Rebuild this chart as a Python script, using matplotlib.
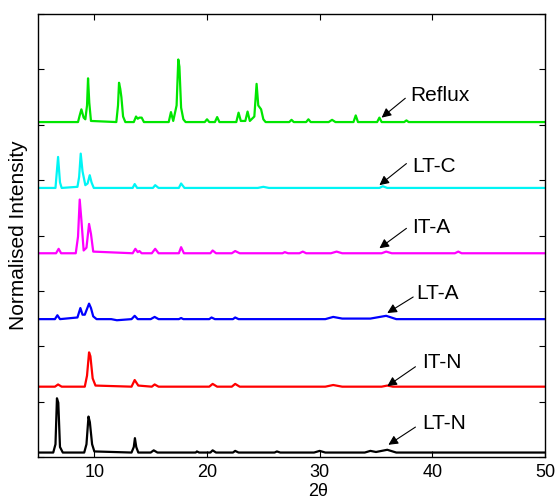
import matplotlib
matplotlib.use("Agg")
import matplotlib.pyplot as plt

plt.rcParams['font.family'] = ['Liberation Sans', 'DejaVu Sans']

# Sample names (bottom to top)
labels = ["LT-N", "IT-N", "LT-A", "IT-A", "LT-C", "Reflux"]
colors = ["#000000", "#ff0000", "#0000ff", "#ff00ff", "#00f5f5", "#00e600"]
offsets = [0.08, 1.27, 2.49, 3.68, 4.86, 6.05]

# Traced pattern points (2theta, normalised intensity above own baseline)
ltn_x = [5, 6.35, 6.55, 6.68, 6.8, 6.95, 7.2, 9.1, 9.3, 9.48, 9.6, 9.8, 10.0, 13.3, 13.5, 13.6,
         13.72, 13.9, 15.0, 15.27, 15.6, 19.0, 19.1, 19.3, 20.3, 20.5, 20.8, 22.3, 22.5, 22.8,
         26.0, 26.2, 26.5, 29.5, 30.0, 30.5, 34.0, 34.5, 35.0, 36.0, 36.8, 50]
ltn_y = [0, 0, 0.15, 0.98, 0.9, 0.1, 0, 0, 0.15, 0.65, 0.55, 0.15, 0.02, 0, 0.1, 0.26,
         0.1, 0, 0, 0.04, 0, 0, 0.02, 0, 0, 0.04, 0, 0, 0.03, 0,
         0, 0.02, 0, 0, 0.03, 0, 0, 0.03, 0.01, 0.05, 0, 0]

itn_x = [5, 6.5, 6.78, 7.1, 9.15, 9.35, 9.53, 9.65, 9.85, 10.1, 13.3, 13.58, 13.9, 15.1, 15.35,
         15.7, 20.2, 20.5, 20.9, 22.2, 22.5, 22.9, 30.5, 31.2, 32.0, 35.5, 36.0, 36.5, 50]
itn_y = [0, 0, 0.04, 0, 0, 0.2, 0.62, 0.55, 0.15, 0.02, 0, 0.12, 0.02, 0, 0.04,
         0, 0, 0.05, 0, 0, 0.05, 0, 0, 0.03, 0, 0, 0.02, 0, 0]

lta_x = [5, 6.5, 6.72, 6.95, 8.5, 8.76, 8.95, 9.15, 9.53, 9.7, 9.9, 10.2, 11.5, 12.0, 13.3,
         13.58, 13.85, 15.0, 15.35, 15.7, 17.5, 17.7, 17.9, 20.2, 20.4, 20.7, 22.3, 22.5, 22.8,
         30.5, 31.2, 32.0, 34.5, 35.9, 36.8, 50]
lta_y = [0, 0, 0.07, 0, 0.03, 0.2, 0.08, 0.08, 0.28, 0.2, 0.05, 0, 0, -0.02, 0,
         0.06, 0, 0, 0.04, 0, 0, 0.02, 0, 0, 0.03, 0, 0, 0.03, 0,
         0, 0.04, 0.01, 0.01, 0.06, 0, 0]

ita_x = [5, 6.6, 6.83, 7.05, 8.35, 8.55, 8.7, 8.85, 9.05, 9.3, 9.53, 9.7, 9.9, 13.4, 13.64,
         13.85, 14.0, 14.2, 15.1, 15.4, 15.7, 17.5, 17.7, 17.95, 20.3, 20.5, 20.8, 22.2, 22.5,
         22.9, 26.7, 26.9, 27.2, 28.2, 28.5, 28.8, 31.0, 31.5, 32.0, 35.5, 35.9, 36.4, 42.0,
         42.3, 42.6, 50]
ita_y = [0, 0, 0.08, 0, 0, 0.3, 0.97, 0.6, 0.05, 0.1, 0.53, 0.35, 0.03, 0, 0.08,
         0.02, 0.04, 0, 0, 0.08, 0, 0, 0.11, 0, 0, 0.05, 0, 0, 0.04,
         0, 0, 0.02, 0, 0, 0.03, 0, 0, 0.03, 0, 0, 0.03, 0, 0,
         0.03, 0, 0]

ltc_x = [5, 6.55, 6.78, 6.95, 7.1, 8.5, 8.65, 8.79, 8.95, 9.2, 9.4, 9.59, 9.75, 9.95, 13.4,
         13.58, 13.8, 15.2, 15.4, 15.7, 17.5, 17.7, 18.0, 24.5, 25.0, 25.5, 35.3, 35.6, 36.0, 50]
ltc_y = [0, 0, 0.56, 0.1, 0, 0.02, 0.2, 0.62, 0.3, 0.05, 0.08, 0.23, 0.1, 0, 0,
         0.07, 0, 0, 0.05, 0, 0, 0.08, 0, 0, 0.02, 0, 0, 0.03, 0, 0]

ref_x = [5, 8.55, 8.7, 8.85, 9.05, 9.2, 9.35, 9.44, 9.55, 9.7, 11.95, 12.1, 12.19, 12.3, 12.4,
         12.55, 12.75, 13.5, 13.7, 13.85, 14.0, 14.2, 14.4, 16.6, 16.8, 17.0, 17.3, 17.45, 17.55,
         17.7, 17.9, 18.1, 19.8, 20.0, 20.2, 20.7, 20.9, 21.1, 22.6, 22.8, 23.0, 23.4, 23.6, 23.8,
         24.2, 24.4, 24.55, 24.8, 25.0, 25.2, 27.3, 27.5, 27.7, 28.8, 29.0, 29.2, 30.8, 31.1,
         31.4, 33.0, 33.2, 33.4, 35.1, 35.3, 35.5, 37.5, 37.7, 37.9, 50]
ref_y = [0, 0, 0.12, 0.23, 0.08, 0.05, 0.3, 0.79, 0.35, 0.02, 0, 0.3, 0.71, 0.6, 0.45,
         0.1, 0, 0, 0.1, 0.06, 0.08, 0.08, 0, 0, 0.18, 0.02, 0.3, 1.13, 1.0,
         0.26, 0.05, 0, 0, 0.05, 0, 0, 0.09, 0, 0, 0.17, 0.02, 0.02, 0.19, 0.02,
         0.1, 0.69, 0.3, 0.23, 0.05, 0, 0, 0.04, 0, 0, 0.05, 0, 0, 0.04,
         0, 0, 0.12, 0, 0, 0.08, 0, 0, 0.03, 0, 0]

series_x = [ltn_x, itn_x, lta_x, ita_x, ltc_x, ref_x]
series_y = [ltn_y, itn_y, lta_y, ita_y, ltc_y, ref_y]

# Annotation positions
arrow_tip_x = [36.1, 36.0, 36.0, 35.3, 35.3, 35.5]
arrow_tip_y = [0.22, 1.28, 2.60, 3.77, 4.91, 6.13]
arrow_tail_x = [38.5, 38.5, 38.3, 37.7, 37.7, 37.6]
arrow_tail_y = [0.54, 1.63, 2.89, 4.13, 5.30, 6.48]
text_x = [39.1, 39.1, 38.6, 38.2, 38.2, 38.0]
text_y = [0.61, 1.70, 2.96, 4.15, 5.24, 6.53]

fig = plt.figure(figsize=(5.55, 5.04), dpi=100)
ax = fig.add_axes([0.0685, 0.0933, 0.9135, 0.8787])

for xs, ys, off, c in zip(series_x, series_y, offsets, colors):
    ax.plot(xs, [v + off for v in ys], color=c, lw=1.6, solid_joinstyle='round')

for lab, tx, ty, ax0, ay0, px, py in zip(labels, text_x, text_y, arrow_tail_x, arrow_tail_y,
                                         arrow_tip_x, arrow_tip_y):
    ax.annotate('', xy=(px, py), xytext=(ax0, ay0),
                arrowprops=dict(arrowstyle='-|>', color='black', lw=0.8,
                                mutation_scale=14, shrinkA=0, shrinkB=0))
    ax.text(tx, ty, lab, fontsize=15, ha='left', va='center')

ax.set_xlim(5, 50)
ax.set_ylim(0, 8)
ax.set_xticks([10, 20, 30, 40, 50])
ax.set_yticks(range(0, 9))
ax.set_yticklabels([])
ax.tick_params(direction='in', top=True, right=True, length=4, width=0.8, labelsize=13, pad=5)
ax.tick_params(axis='x', pad=5)
for s in ax.spines.values():
    s.set_linewidth(1.0)

ax.set_ylabel("Normalised Intensity", fontsize=15, labelpad=0)
ax.yaxis.set_label_coords(-0.02, 0.5)
ax.set_xlabel("2θ", fontsize=13)
ax.xaxis.set_label_coords(0.552, -0.059)

fig.savefig("out.png", dpi=100)
